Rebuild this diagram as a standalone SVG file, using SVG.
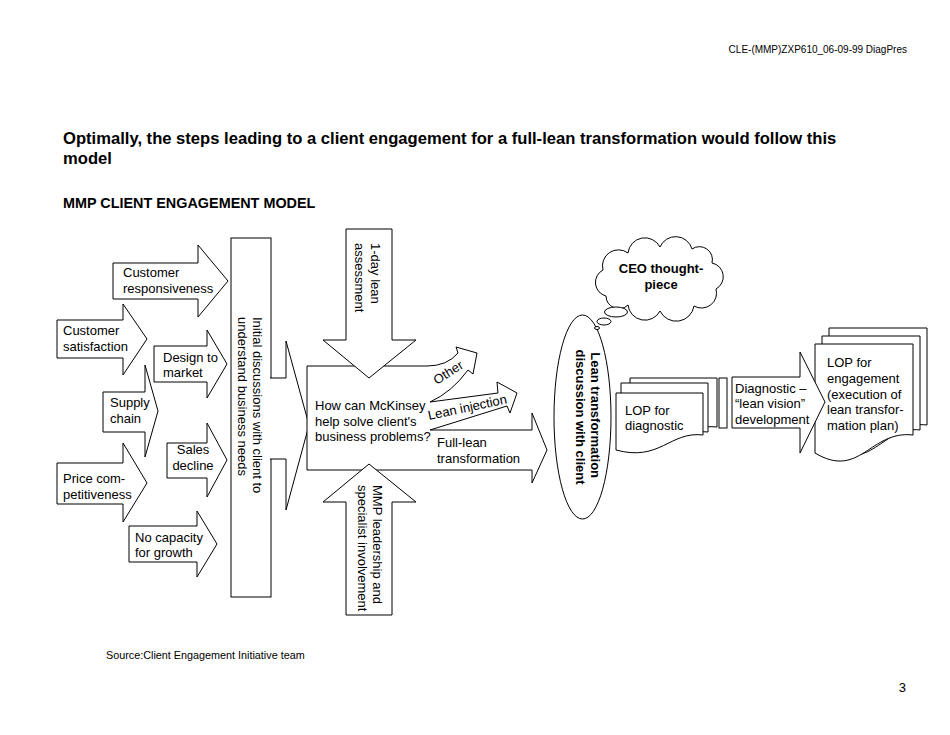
<svg xmlns="http://www.w3.org/2000/svg" width="950" height="735" viewBox="0 0 950 735">
<style>
  .s { fill: #fff; stroke: #000; stroke-width: 1; stroke-linejoin: miter; }
  .t { font-family: "Liberation Sans", Arial, sans-serif; font-size: 13px; fill: #000; }
  .b { font-weight: bold; }
  .sm { font-family: "Liberation Sans", Arial, sans-serif; font-size: 10px; fill: #000; }
</style>
<rect x="0" y="0" width="950" height="735" fill="#fff"/>

<text class="sm" x="907" y="53" text-anchor="end">CLE-(MMP)ZXP610_06-09-99 DiagPres</text>
<text class="t b" x="63" y="144" style="font-size:16.6px">Optimally, the steps leading to a client engagement for a full-lean transformation would follow this</text>
<text class="t b" x="63" y="164" style="font-size:16.6px">model</text>
<text class="t b" x="63" y="208" style="font-size:14.4px">MMP CLIENT ENGAGEMENT MODEL</text>

<g id="drivers">
  <g id="cust-resp">
    <polygon class="s" points="113,263 198,263 198,245 228,281 198,317 198,299 113,299"/>
    <text class="t" x="123" y="277">Customer</text>
    <text class="t" x="123" y="293">responsiveness</text>
  </g>
  <g id="cust-sat">
    <polygon class="s" points="57,320 123,320 123,304 147,339 123,375 123,358 57,358"/>
    <text class="t" x="63" y="335">Customer</text>
    <text class="t" x="63" y="351">satisfaction</text>
  </g>
  <g id="design">
    <polygon class="s" points="154,346 207,346 207,330 227,364 207,398 207,382 154,382"/>
    <text class="t" x="163" y="362">Design to</text>
    <text class="t" x="163" y="377">market</text>
  </g>
  <g id="supply">
    <polygon class="s" points="103,392 145,392 145,365 158,411 145,457 145,432 103,432"/>
    <text class="t" x="110" y="407">Supply</text>
    <text class="t" x="110" y="423">chain</text>
  </g>
  <g id="sales">
    <polygon class="s" points="167,443 207,443 207,423 227,460 207,497 207,478 167,478"/>
    <text class="t" x="193" y="454" text-anchor="middle">Sales</text>
    <text class="t" x="193" y="470" text-anchor="middle">decline</text>
  </g>
  <g id="price">
    <polygon class="s" points="57,463 123,463 123,443 147,483 123,522 123,504 57,504"/>
    <text class="t" x="63" y="483">Price com-</text>
    <text class="t" x="63" y="499">petitiveness</text>
  </g>
  <g id="capacity">
    <polygon class="s" points="129,526 197,526 197,511 217,544 197,577 197,562 129,562"/>
    <text class="t" x="135" y="542">No capacity</text>
    <text class="t" x="135" y="557">for growth</text>
  </g>
</g>

<g id="initial">
  <rect class="s" x="231" y="238" width="40" height="359"/>
  <path class="s" d="M270,378 L286,378 L286,341 L309,425 L286,510 L286,459 L270,459"/>
  <text class="t" transform="translate(266,317) rotate(90)">
    <tspan x="0" y="13">Initial discussions with client to</tspan>
    <tspan x="0" y="28">understand business needs</tspan>
  </text>
</g>

<g id="question">
  <path class="s" d="M307,366 L427,366 Q447,366 458,353 L456,347 L477,353 L473,374 L468,370 Q452,392 430,402 L498,393 L497,382 L517,393 L510,413 L507,406 L430,430 L532,430 L532,413 L547,450 L532,483 L532,470 L307,470 Z"/>
  <text class="t" x="315" y="410">How can McKinsey</text>
  <text class="t" x="315" y="425.5">help solve client's</text>
  <text class="t" x="315" y="441">business problems?</text>
  <text class="t" transform="translate(437,385) rotate(-33)">Other</text>
  <text class="t" transform="translate(429,420) rotate(-12)">Lean injection</text>
  <text class="t" x="437" y="447">Full-lean</text>
  <text class="t" x="437" y="463">transformation</text>
</g>

<g id="assessment">
  <polygon class="s" points="346,229 392,229 392,340 416,340 369,378 323,340 346,340"/>
  <text class="t" transform="translate(383,243) rotate(90)">
    <tspan x="0" y="12.5">1-day lean</tspan>
    <tspan x="0" y="28">assessment</tspan>
  </text>
</g>

<g id="leadership">
  <polygon class="s" points="369,464 416,502 392,502 392,615 346,615 346,502 323,502"/>
  <text class="t" transform="translate(385,485) rotate(90)">
    <tspan x="0" y="12.5">MMP leadership and</tspan>
    <tspan x="0" y="27.5">specialist involvement</tspan>
  </text>
</g>

<g id="lean-discussion">
  <ellipse class="s" cx="582.5" cy="417" rx="28.5" ry="102"/>
  <text class="t b" transform="translate(603,417) rotate(90)" text-anchor="middle">
    <tspan x="0" y="12">Lean transformation</tspan>
    <tspan x="0" y="27">discussion with client</tspan>
  </text>
</g>

<g id="ceo">
  <path class="s" d="M606,296 A14,14 0 0 1 603,270 A16,16 0 0 1 628,253 A17,17 0 0 1 660,247 A17,17 0 0 1 692,249 A13,13 0 0 1 712,263 A14,14 0 0 1 716,289 A15,15 0 0 1 694,306 A18,18 0 0 1 660,311 A17,17 0 0 1 628,305 A13,13 0 0 1 606,296 Z"/>
  <ellipse class="s" cx="616" cy="312" rx="11.5" ry="5"/>
  <ellipse class="s" cx="604" cy="321.5" rx="7" ry="3.5"/>
  <ellipse class="s" cx="597" cy="328" rx="2.5" ry="1.5"/>
  <text class="t b" x="661" y="273" text-anchor="middle">CEO thought-</text>
  <text class="t b" x="661" y="289" text-anchor="middle">piece</text>
</g>

<g id="lop-diagnostic">
  <path class="s" d="M630,378 L717,378 L717,427 C684,423 674,454 630,442 Z"/>
  <path class="s" d="M621,383 L708,383 L708,432 C675,428 665,459 621,447 Z"/>
  <path class="s" d="M616,393 L703,393 L703,435 C670,431 660,462 616,450 Z"/>
  <text class="t" x="625" y="415">LOP for</text>
  <text class="t" x="625" y="430">diagnostic</text>
</g>

<g id="spacer">
  <rect class="s" x="719" y="378" width="8" height="50"/>
</g>

<g id="lop-engagement">
  <path class="s" d="M829,328 L927,328 L927,425 C889,420 879,470 829,443 Z"/>
  <path class="s" d="M822,336 L920,336 L920,430 C882,425 872,475 822,448 Z"/>
  <path class="s" d="M815,344 L913,344 L913,435 C870,430 860,480 815,453 Z"/>
  <text class="t" x="827" y="367">LOP for</text>
  <text class="t" x="827" y="383">engagement</text>
  <text class="t" x="827" y="398.5">(execution of</text>
  <text class="t" x="827" y="414">lean transfor-</text>
  <text class="t" x="827" y="429.5">mation plan)</text>
</g>

<g id="diagnostic">
  <polygon class="s" points="732,377 800,377 800,352 825,402 800,453 800,428 732,428"/>
  <text class="t" x="735" y="393">Diagnostic –</text>
  <text class="t" x="735" y="408">“lean vision”</text>
  <text class="t" x="735" y="423.5">development</text>
</g>

<g id="connectors"></g>

<text class="sm" x="106" y="659" style="font-size:10.8px">Source:Client Engagement Initiative team</text>
<text class="t" x="906" y="692" text-anchor="end">3</text>
</svg>
